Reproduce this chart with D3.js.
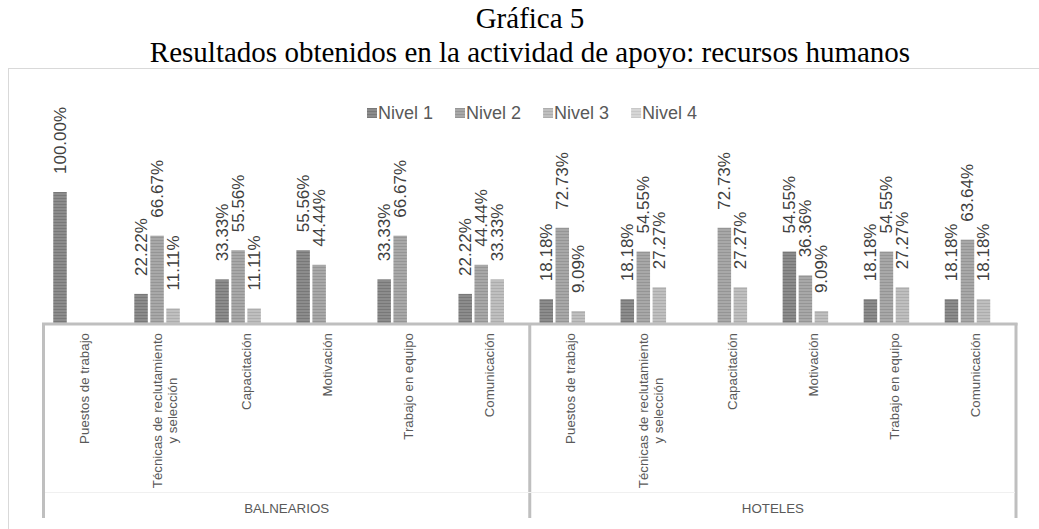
<!DOCTYPE html>
<html>
<head>
<meta charset="utf-8">
<script src="https://cdn.jsdelivr.net/npm/d3@7"></script>
<style>
  body { margin: 0; background: #fff; }
  text { font-family: "Liberation Sans", Arial, sans-serif; }
</style>
</head>
<body>
<div class="chart"></div>
<script>
// data
var groups = ["BALNEARIOS", "HOTELES"];
var categories = ["Puestos de trabajo", "Técnicas de reclutamiento|y selección", "Capacitación",
  "Motivación", "Trabajo en equipo", "Comunicación"];
var series = ["Nivel 1", "Nivel 2", "Nivel 3", "Nivel 4"];
// 12 values each: 6 balnearios, then 6 hoteles (null = no bar)
var nivel1 = [1.0, 0.2222, 0.3333, 0.5556, 0.3333, 0.2222, 0.1818, 0.1818, null, 0.5455, 0.1818, 0.1818];
var nivel2 = [null, 0.6667, 0.5556, 0.4444, 0.6667, 0.4444, 0.7273, 0.5455, 0.7273, 0.3636, 0.5455, 0.6364];
var nivel3 = [null, 0.1111, 0.1111, null, null, 0.3333, 0.0909, 0.2727, 0.2727, 0.0909, 0.2727, 0.1818];
var nivel4 = [null, null, null, null, null, null, null, null, null, null, null, null];
var seriesValues = [nivel1, nivel2, nivel3, nivel4];

var svgWidth = 1039;
var svgHeight = 529;

var svg = d3.select(".chart")
  .append("svg")
  .attr("width", svgWidth)
  .attr("height", svgHeight);

// bar fills: horizontal stripes like the original
var colors = [["#8c8c8c", "#787878"], ["#a8a8a8", "#959595"], ["#bfbfbf", "#adadad"], ["#d6d6d6", "#c8c8c8"]];
var defs = svg.append("defs");
colors.forEach(function(c, i) {
  var p = defs.append("pattern")
    .attr("id", "pat" + i)
    .attr("patternUnits", "userSpaceOnUse")
    .attr("width", 4).attr("height", 3);
  p.append("rect").attr("width", 4).attr("height", 3).attr("fill", c[0]);
  p.append("rect").attr("width", 4).attr("height", 1).attr("fill", c[1]);
});

// title
svg.append("text")
  .attr("x", 530).attr("y", 28)
  .attr("text-anchor", "middle")
  .style("font-family", "'Liberation Serif', 'Times New Roman', serif")
  .style("font-size", "29px")
  .attr("fill", "#000")
  .text("Gráfica 5");
svg.append("text")
  .attr("x", 530).attr("y", 62)
  .attr("text-anchor", "middle")
  .style("font-family", "'Liberation Serif', 'Times New Roman', serif")
  .style("font-size", "29px")
  .attr("fill", "#000")
  .text("Resultados obtenidos en la actividad de apoyo: recursos humanos");

// chart area border
svg.append("rect")
  .attr("x", 8.5).attr("y", 68.5)
  .attr("width", 1040).attr("height", 480)
  .attr("fill", "none")
  .attr("stroke", "#d9d9d9");

// scales
var keys = d3.range(groups.length * categories.length);
var x0 = d3.scaleBand()
  .domain(keys)
  .range([43.5, 1016]);

var inner = 9.75;
var x1 = d3.scaleBand()
  .domain(series)
  .range([inner, x0.bandwidth() - inner])
  .paddingInner(0.156);

var y = d3.scaleLinear()
  .domain([0, 1])
  .range([323, 192]);

// bars
var barData = [];
series.forEach(function(s, si) {
  seriesValues[si].forEach(function(v, ci) {
    if (v != null) barData.push({ s: s, si: si, ci: ci, v: v });
  });
});

var chartGroup = svg.append("g");

chartGroup.selectAll("rect.bar")
  .data(barData)
  .enter()
  .append("rect")
  .attr("class", "bar")
  .attr("x", d => x0(d.ci) + x1(d.s))
  .attr("y", d => y(d.v))
  .attr("width", x1.bandwidth())
  .attr("height", d => y(0) - y(d.v))
  .attr("fill", d => "url(#pat" + d.si + ")");

// data labels
chartGroup.selectAll("text.lbl")
  .data(barData)
  .enter()
  .append("text")
  .attr("class", "lbl")
  .attr("transform", d => `translate(${x0(d.ci) + x1(d.s) + x1.bandwidth() / 2}, ${y(d.v) - 18}) rotate(-90)`)
  .attr("dy", "0.35em")
  .attr("text-anchor", "start")
  .style("font-size", "17px")
  .attr("fill", "#404040")
  .text(d => (d.v * 100).toFixed(2) + "%");

// axis lines
var axisColor = "#bfbfbf";
svg.append("line")
  .attr("x1", 42).attr("x2", 1017.5)
  .attr("y1", 324).attr("y2", 324)
  .attr("stroke", axisColor).attr("stroke-width", 3);

var seps = [43.5, x0(categories.length), 1016];
seps.forEach(function(sx) {
  svg.append("line")
    .attr("x1", sx).attr("x2", sx)
    .attr("y1", 323).attr("y2", 518)
    .attr("stroke", axisColor).attr("stroke-width", 3);
});

// faint divider between the two label rows
svg.append("line")
  .attr("x1", 45).attr("x2", 1015)
  .attr("y1", 492.5).attr("y2", 492.5)
  .attr("stroke", "#f0f0f0");

// category labels (rotated, may have two lines)
keys.forEach(function(k) {
  var lines = categories[k % categories.length].split("|");
  var cx = x0(k) + x0.bandwidth() / 2;
  var g = svg.append("g");
  var texts = lines.map(function(line, li) {
    var off = (li - (lines.length - 1) / 2) * 15;
    return g.append("text")
      .attr("dy", "0.35em")
      .attr("text-anchor", "middle")
      .style("font-size", "13.3px")
      .attr("fill", "#595959")
      .attr("data-x", cx + off)
      .text(line);
  });
  var maxLen = d3.max(texts, t => t.node().getComputedTextLength());
  texts.forEach(function(t) {
    t.attr("transform", `translate(${t.attr("data-x")}, ${333 + maxLen / 2}) rotate(-90)`);
  });
});

// group labels
groups.forEach(function(gname, gi) {
  var gx = (x0(gi * categories.length) + x0(gi * categories.length + categories.length - 1) + x0.bandwidth()) / 2;
  svg.append("text")
    .attr("x", gx).attr("y", 508)
    .attr("dy", "0.35em")
    .attr("text-anchor", "middle")
    .style("font-size", "13.3px")
    .attr("fill", "#595959")
    .text(gname);
});

// legend
var legend = svg.append("g");
var lx = 367;
series.forEach(function(s, i) {
  legend.append("rect")
    .attr("x", lx).attr("y", 108)
    .attr("width", 10).attr("height", 10)
    .attr("fill", "url(#pat" + i + ")");
  var t = legend.append("text")
    .attr("x", lx + 11).attr("y", 113)
    .attr("dy", "0.35em")
    .style("font-size", "18px")
    .attr("fill", "#595959")
    .text(s);
  lx += 11 + t.node().getComputedTextLength() + 22;
});
</script>
</body>
</html>
